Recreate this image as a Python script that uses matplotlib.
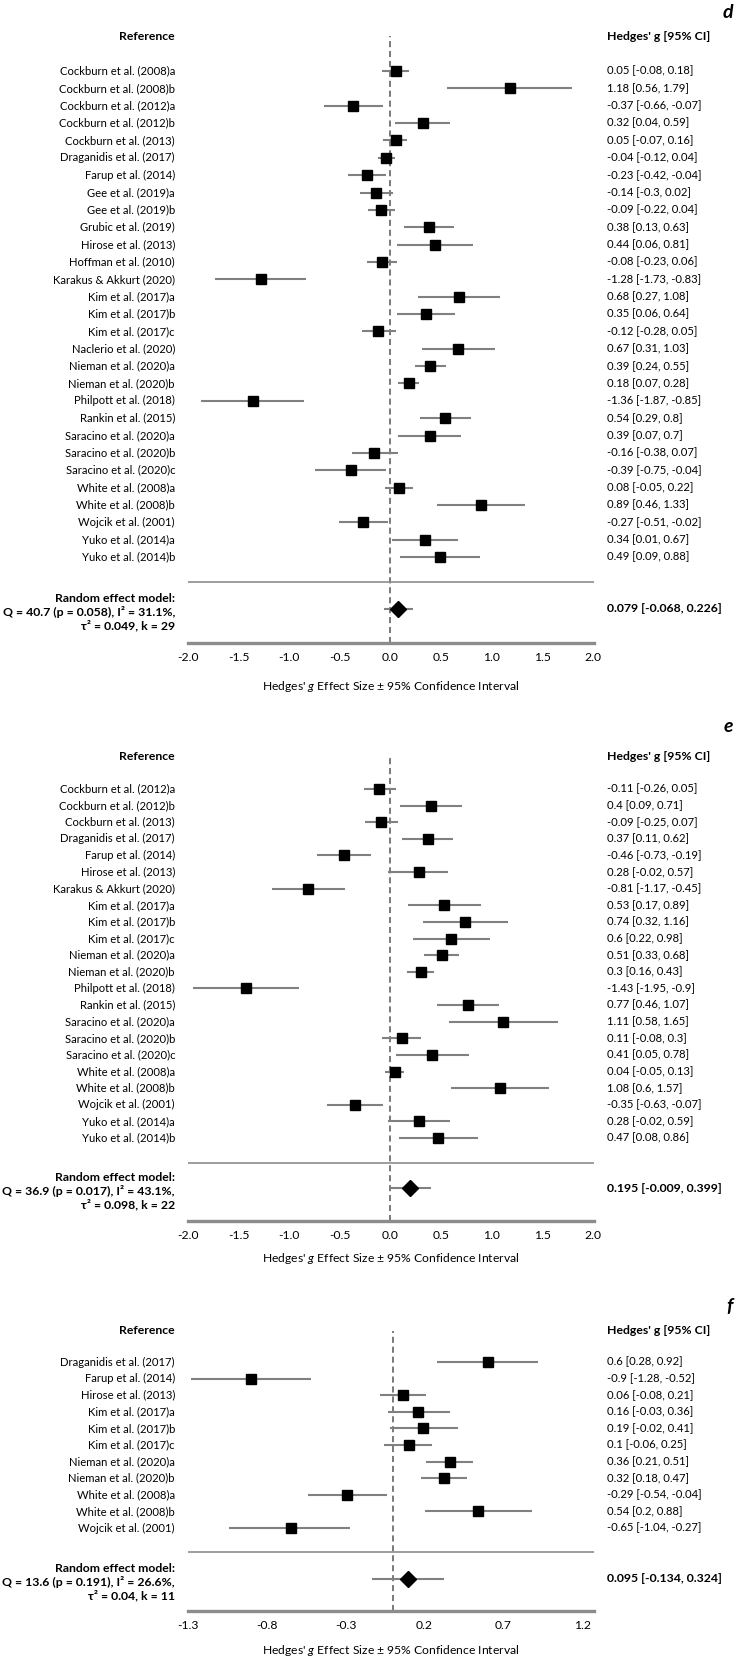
import matplotlib
matplotlib.use('Agg')
import matplotlib.pyplot as plt
import matplotlib.transforms as mtransforms

plt.rcParams['font.family'] = ['Lato', 'DejaVu Sans']
plt.rcParams['mathtext.fontset'] = 'custom'
plt.rcParams['mathtext.rm'] = 'Lato'
plt.rcParams['mathtext.it'] = 'Lato:italic'
plt.rcParams['axes.unicode_minus'] = False

# ---------------------------------------------------------------- data

d_studies = [
    'Cockburn et al. (2008)a', 'Cockburn et al. (2008)b', 'Cockburn et al. (2012)a',
    'Cockburn et al. (2012)b', 'Cockburn et al. (2013)', 'Draganidis et al. (2017)',
    'Farup et al. (2014)', 'Gee et al. (2019)a', 'Gee et al. (2019)b',
    'Grubic et al. (2019)', 'Hirose et al. (2013)', 'Hoffman et al. (2010)',
    'Karakus & Akkurt (2020)', 'Kim et al. (2017)a', 'Kim et al. (2017)b',
    'Kim et al. (2017)c', 'Naclerio et al. (2020)', 'Nieman et al. (2020)a',
    'Nieman et al. (2020)b', 'Philpott et al. (2018)', 'Rankin et al. (2015)',
    'Saracino et al. (2020)a', 'Saracino et al. (2020)b', 'Saracino et al. (2020)c',
    'White et al. (2008)a', 'White et al. (2008)b', 'Wojcik et al. (2001)',
    'Yuko et al. (2014)a', 'Yuko et al. (2014)b',
]
d_g = [0.05, 1.18, -0.37, 0.32, 0.05, -0.04, -0.23, -0.14, -0.09, 0.38, 0.44, -0.08,
       -1.28, 0.68, 0.35, -0.12, 0.67, 0.39, 0.18, -1.36, 0.54, 0.39, -0.16, -0.39,
       0.08, 0.89, -0.27, 0.34, 0.49]
d_lo = [-0.08, 0.56, -0.66, 0.04, -0.07, -0.12, -0.42, -0.3, -0.22, 0.13, 0.06, -0.23,
        -1.73, 0.27, 0.06, -0.28, 0.31, 0.24, 0.07, -1.87, 0.29, 0.07, -0.38, -0.75,
        -0.05, 0.46, -0.51, 0.01, 0.09]
d_hi = [0.18, 1.79, -0.07, 0.59, 0.16, 0.04, -0.04, 0.02, 0.04, 0.63, 0.81, 0.06,
        -0.83, 1.08, 0.64, 0.05, 1.03, 0.55, 0.28, -0.85, 0.8, 0.7, 0.07, -0.04,
        0.22, 1.33, -0.02, 0.67, 0.88]
d_pooled = [0.079, -0.068, 0.226]
d_stats = [40.7, 0.058, 31.1, 0.049, 29]

e_studies = [
    'Cockburn et al. (2012)a', 'Cockburn et al. (2012)b', 'Cockburn et al. (2013)',
    'Draganidis et al. (2017)', 'Farup et al. (2014)', 'Hirose et al. (2013)',
    'Karakus & Akkurt (2020)', 'Kim et al. (2017)a', 'Kim et al. (2017)b',
    'Kim et al. (2017)c', 'Nieman et al. (2020)a', 'Nieman et al. (2020)b',
    'Philpott et al. (2018)', 'Rankin et al. (2015)', 'Saracino et al. (2020)a',
    'Saracino et al. (2020)b', 'Saracino et al. (2020)c', 'White et al. (2008)a',
    'White et al. (2008)b', 'Wojcik et al. (2001)', 'Yuko et al. (2014)a',
    'Yuko et al. (2014)b',
]
e_g = [-0.11, 0.4, -0.09, 0.37, -0.46, 0.28, -0.81, 0.53, 0.74, 0.6, 0.51, 0.3,
       -1.43, 0.77, 1.11, 0.11, 0.41, 0.04, 1.08, -0.35, 0.28, 0.47]
e_lo = [-0.26, 0.09, -0.25, 0.11, -0.73, -0.02, -1.17, 0.17, 0.32, 0.22, 0.33, 0.16,
        -1.95, 0.46, 0.58, -0.08, 0.05, -0.05, 0.6, -0.63, -0.02, 0.08]
e_hi = [0.05, 0.71, 0.07, 0.62, -0.19, 0.57, -0.45, 0.89, 1.16, 0.98, 0.68, 0.43,
        -0.9, 1.07, 1.65, 0.3, 0.78, 0.13, 1.57, -0.07, 0.59, 0.86]
e_pooled = [0.195, -0.009, 0.399]
e_stats = [36.9, 0.017, 43.1, 0.098, 22]

f_studies = [
    'Draganidis et al. (2017)', 'Farup et al. (2014)', 'Hirose et al. (2013)',
    'Kim et al. (2017)a', 'Kim et al. (2017)b', 'Kim et al. (2017)c',
    'Nieman et al. (2020)a', 'Nieman et al. (2020)b', 'White et al. (2008)a',
    'White et al. (2008)b', 'Wojcik et al. (2001)',
]
f_g = [0.6, -0.9, 0.06, 0.16, 0.19, 0.1, 0.36, 0.32, -0.29, 0.54, -0.65]
f_lo = [0.28, -1.28, -0.08, -0.03, -0.02, -0.06, 0.21, 0.18, -0.54, 0.2, -1.04]
f_hi = [0.92, -0.52, 0.21, 0.36, 0.41, 0.25, 0.51, 0.47, -0.04, 0.88, -0.27]
f_pooled = [0.095, -0.134, 0.324]
f_stats = [13.6, 0.191, 26.6, 0.04, 11]

d_ticks = [-2.0, -1.5, -1.0, -0.5, 0.0, 0.5, 1.0, 1.5, 2.0]
f_ticks = [-1.3, -0.8, -0.3, 0.2, 0.7, 1.2]

# ---------------------------------------------------------------- layout (pixels)

W, H = 736, 1662
FS = 8.1      # study rows
FSB = 8.8     # bold text
FSA = 8.7     # ticks and x label
GREY = '#808080'


def forest(fig, letter, studies, g, lo, hi, pooled, stats, xlim, ticks, lay):
    letter_y, top, r0, step, thin, dia, thick, xlab = lay
    left, right = 188, 594
    ax = fig.add_axes([left / W, 1 - thick / H, (right - left) / W, (thick - top) / H])
    ax.set_xlim(*xlim)
    ax.set_ylim((thick - r0) / step, (top - r0) / step)
    for s in ['top', 'left', 'right']:
        ax.spines[s].set_visible(False)
    ax.spines['bottom'].set_color('#8c8c8c')
    ax.spines['bottom'].set_linewidth(2.4)
    ax.set_yticks([])
    ax.set_xticks(ticks)
    ax.set_xticklabels(['%.1f' % t for t in ticks], fontsize=FSA)
    ax.tick_params(axis='x', length=0, pad=6.5)
    ax.patch.set_alpha(0)

    ax.axvline(0, color='#555555', lw=1.1, dashes=(4, 2.5), zorder=1)
    ax.axhline((thin - r0) / step, color='#8c8c8c', lw=1.2)

    ys = list(range(len(studies)))
    ax.hlines(ys, lo, hi, color=GREY, lw=1.5, zorder=2)
    ax.plot(g, ys, 's', color='black', ms=6.5, zorder=3)

    yd = (dia - r0) / step
    ax.hlines([yd], pooled[1], pooled[2], color=GREY, lw=1.5, zorder=2)
    ax.plot([pooled[0]], [yd], 'D', color='black', ms=8.5, zorder=3)

    tr = mtransforms.blended_transform_factory(fig.transFigure, ax.transData)
    xl, xr = 175 / W, 607 / W
    for y, name, a, b, c in zip(ys, studies, g, lo, hi):
        ax.text(xl, y, name, transform=tr, ha='right', va='center', fontsize=FS)
        ax.text(xr, y, '%s [%s, %s]' % (a, b, c), transform=tr, ha='left',
                va='center', fontsize=FS)

    q, p, i2, t2, k = stats
    txt = ('Random effect model:\nQ = %s (p = %s), I\u00b2 = %s%%,\n\u03c4\u00b2 = %s, k = %s'
           % (q, p, i2, t2, k))
    ax.text(xl, yd + 3 / step, txt, transform=tr, ha='right', va='center', fontsize=FSB,
            fontweight='bold', multialignment='right', linespacing=1.2)
    ax.text(xr, yd, '%s [%s, %s]' % tuple(pooled), transform=tr, ha='left',
            va='center', fontsize=FSB, fontweight='bold')

    fig.text(xl, 1 - top / H, 'Reference', ha='right', va='center', fontsize=FSB,
             fontweight='bold')
    fig.text(xr, 1 - top / H, "Hedges' g [95% CI]", ha='left', va='center',
             fontsize=FSB, fontweight='bold')
    fig.text(733 / W, 1 - letter_y / H, letter, ha='right', va='center', fontsize=14,
             fontweight='bold', fontstyle='italic')
    fig.text((left + right) / 2 / W, 1 - xlab / H,
             "Hedges' $g$ Effect Size \u00b1 95% Confidence Interval",
             ha='center', va='center', fontsize=FSA)
    return ax


fig = plt.figure(figsize=(W / 100, H / 100), dpi=100)

forest(fig, 'd', d_studies, d_g, d_lo, d_hi, d_pooled, d_stats, (-2.0, 2.01), d_ticks,
       (12, 36, 71, 17.36, 582, 609, 643, 687))
forest(fig, 'e', e_studies, e_g, e_lo, e_hi, e_pooled, e_stats, (-2.0, 2.01), d_ticks,
       (726, 756, 789, 16.62, 1163, 1188, 1221, 1259))
forest(fig, 'f', f_studies, f_g, f_lo, f_hi, f_pooled, f_stats, (-1.3, 1.274), f_ticks,
       (1307, 1331, 1362, 16.6, 1552, 1579, 1611, 1651))

fig.savefig('out.png', dpi=100, facecolor='white')
